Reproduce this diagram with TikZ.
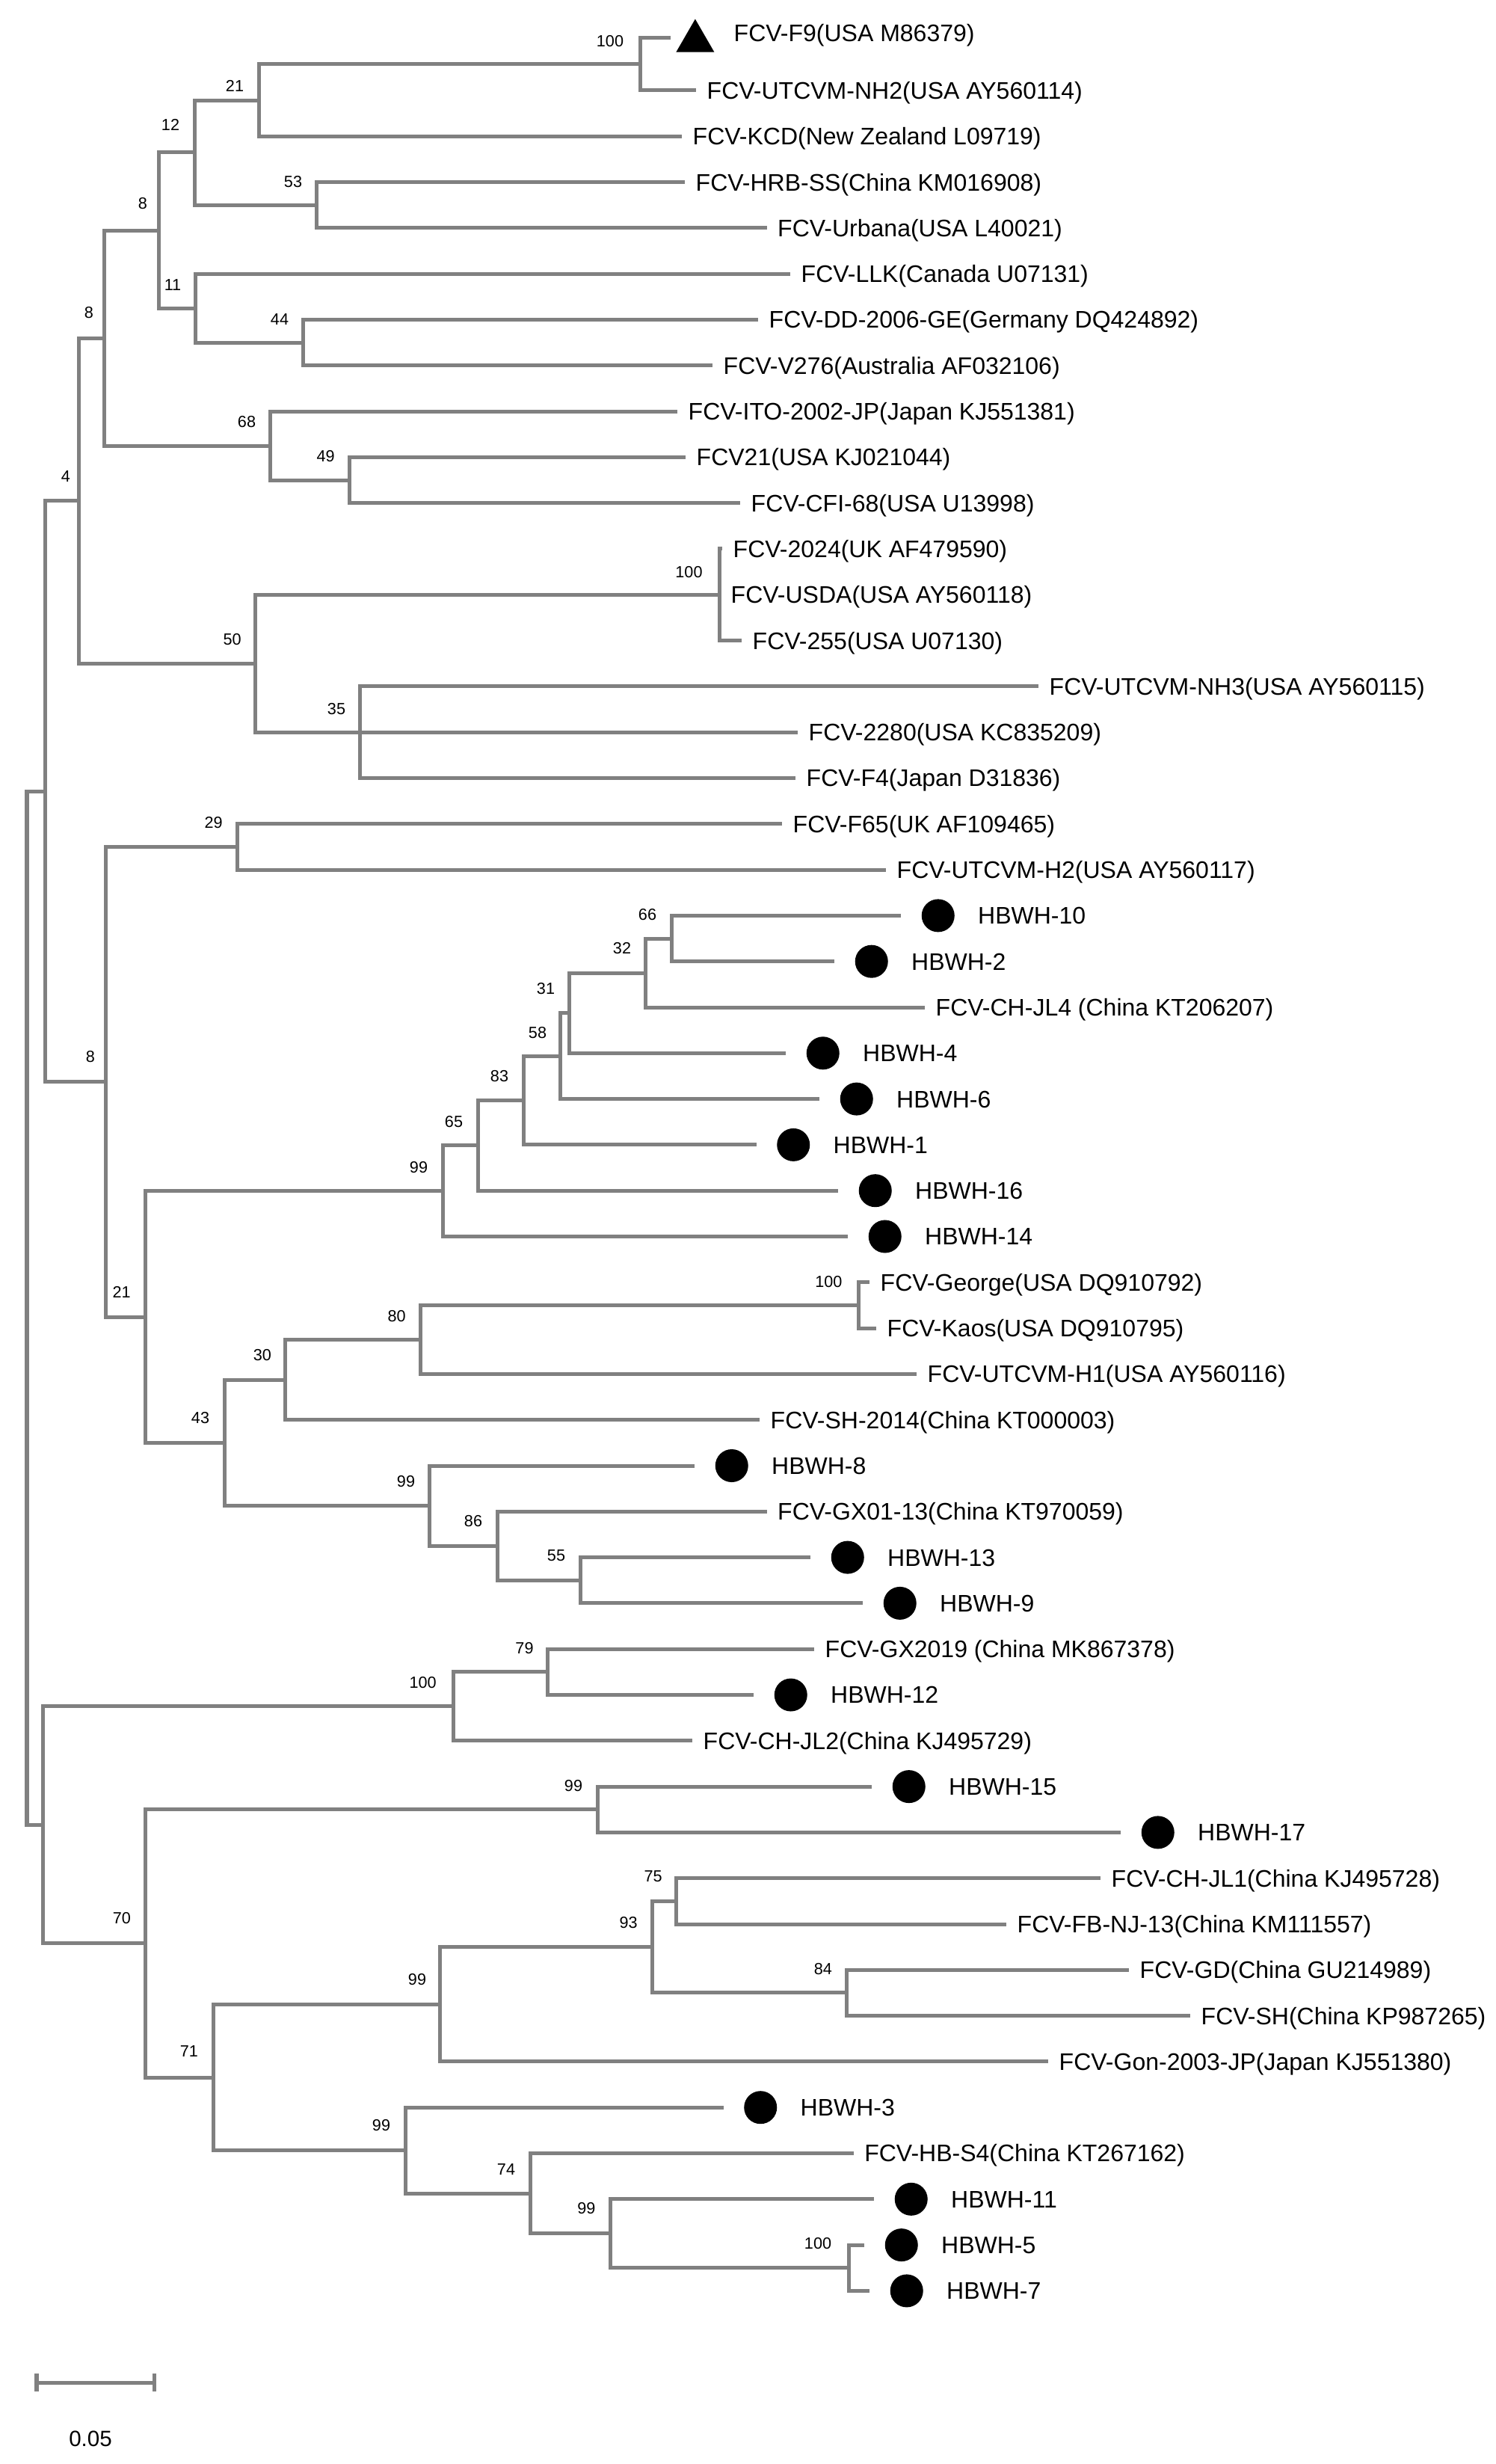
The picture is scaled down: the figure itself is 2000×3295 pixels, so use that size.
\documentclass[tikz,border=0pt]{standalone}
\usepackage{fontspec}
\setmainfont{Liberation Sans}
\usetikzlibrary{positioning,shapes.geometric}

\definecolor{treegray}{RGB}{128,128,128}
\tikzset{
  branch/.style={draw=treegray, line width=0.05cm},
  leaf/.style={inner sep=0pt, font=\fontsize{9.1}{10}\selectfont, text height=0.229cm, text depth=0pt},
  boot/.style={inner sep=0pt, font=\fontsize{6.15}{7}\selectfont},
  scalelab/.style={inner sep=0pt, font=\fontsize{8.4}{9}\selectfont},
  hbdot/.style={circle, fill=black, inner sep=0pt, minimum size=0.44cm},
  reftri/.style={regular polygon, regular polygon sides=3, fill=black, inner sep=0pt, minimum size=0.59cm},
}

\begin{document}
\begin{tikzpicture}[x=0.01cm, y=-0.01cm]
    \useasboundingbox (0,0) rectangle (2000,3295);

    % leaf ends
    \coordinate (e1) at (897,51);
    \coordinate (e2) at (931,121);
    \coordinate (e3) at (912,182.3);
    \coordinate (e4) at (916,243.6);
    \coordinate (e5) at (1025.5,304.9);
    \coordinate (e6) at (1057,366.2);
    \coordinate (e7) at (1014,427.5);
    \coordinate (e8) at (953,488.8);
    \coordinate (e9) at (906,550.1);
    \coordinate (e10) at (917,611.4);
    \coordinate (e11) at (990,672.7);
    \coordinate (e12) at (966,734);
    \coordinate (e13) at (963,795.3);
    \coordinate (e14) at (992,856.6);
    \coordinate (e15) at (1389,917.9);
    \coordinate (e16) at (1067,979.2);
    \coordinate (e17) at (1064,1040.5);
    \coordinate (e18) at (1046,1101.8);
    \coordinate (e19) at (1185,1163.1);
    \coordinate (e20) at (1205,1224.4);
    \coordinate (e21) at (1116,1285.7);
    \coordinate (e22) at (1237,1347);
    \coordinate (e23) at (1051,1408.3);
    \coordinate (e24) at (1096,1469.6);
    \coordinate (e25) at (1011.5,1530.9);
    \coordinate (e26) at (1121,1592.2);
    \coordinate (e27) at (1134,1653.5);
    \coordinate (e28) at (1163,1714.8);
    \coordinate (e29) at (1172,1776.1);
    \coordinate (e30) at (1226,1837.4);
    \coordinate (e31) at (1016,1898.7);
    \coordinate (e32) at (929,1960);
    \coordinate (e33) at (1025.5,2021.3);
    \coordinate (e34) at (1084,2082.6);
    \coordinate (e35) at (1154,2143.9);
    \coordinate (e36) at (1089,2205.2);
    \coordinate (e37) at (1008,2266.5);
    \coordinate (e38) at (926,2327.8);
    \coordinate (e39) at (1166,2389.1);
    \coordinate (e40) at (1499,2450.4);
    \coordinate (e41) at (1472,2511.7);
    \coordinate (e42) at (1346,2573);
    \coordinate (e43) at (1510,2634.3);
    \coordinate (e44) at (1592,2695.6);
    \coordinate (e45) at (1402,2756.9);
    \coordinate (e46) at (967.5,2818.2);
    \coordinate (e47) at (1141.6,2879.5);
    \coordinate (e48) at (1169,2940.8);
    \coordinate (e49) at (1156,3002.1);
    \coordinate (e50) at (1163,3063.4);

    % inner nodes
    \coordinate (root) at (36,1749.3);
    \coordinate (nTop) at (60.6,1058.2);
    \coordinate (n4) at (105,669.7);
    \coordinate (nA8a) at (139,452.1);
    \coordinate (nA8b) at (212,308.1);
    \coordinate (nA12) at (260,203.95);
    \coordinate (nA21) at (346,134.65);
    \coordinate (nA100) at (856.5,86);
    \coordinate (nA53) at (423,274.25);
    \coordinate (nA11) at (261.5,412.2);
    \coordinate (nA44) at (405,458.15);
    \coordinate (nA68) at (361.6,596.1);
    \coordinate (nA49) at (467,642.05);
    \coordinate (nB50) at (341,887.25);
    \coordinate (nB100) at (962,795.3);
    \coordinate (nB35) at (481.5,979.2);
    \coordinate (n8c) at (141.6,1446.7);
    \coordinate (nC29) at (317,1132.45);
    \coordinate (nD21) at (194.5,1761);
    \coordinate (nD99) at (592,1592.7);
    \coordinate (nD65) at (639,1531.85);
    \coordinate (nD83) at (700,1471.5);
    \coordinate (nD58) at (749,1412.1);
    \coordinate (nD31) at (761,1354.65);
    \coordinate (nD32) at (863,1301);
    \coordinate (nD66) at (898,1255.05);
    \coordinate (nE43) at (300,1929.35);
    \coordinate (nE30) at (381,1845.05);
    \coordinate (nE80) at (562.5,1791.4);
    \coordinate (nE100) at (1148.6,1745.45);
    \coordinate (nF99) at (574,2013.65);
    \coordinate (nF86) at (665,2067.3);
    \coordinate (nF55) at (776,2113.25);
    \coordinate (nBot) at (57.4,2440.35);
    \coordinate (nG100) at (606,2281.8);
    \coordinate (nG79) at (732,2235.85);
    \coordinate (n70) at (194.5,2598.9);
    \coordinate (nH99) at (799,2419.75);
    \coordinate (n71) at (285,2778);
    \coordinate (nI99) at (588,2680.3);
    \coordinate (nI93) at (872,2603.65);
    \coordinate (nI75) at (904,2542.35);
    \coordinate (nI84) at (1132,2664.95);
    \coordinate (nJ99) at (542,2875.7);
    \coordinate (nJ74) at (709,2933.15);
    \coordinate (nJ99b) at (816,2986.8);
    \coordinate (nJ100) at (1135,3032.75);

    % branches
    \draw[branch] (nTop) -| (root) |- (nBot);
    \draw[branch] (n4) -| (nTop) |- (n8c);
    \draw[branch] (nA8a) -| (n4) |- (nB50);
    \draw[branch] (nA8b) -| (nA8a) |- (nA68);
    \draw[branch] (nA12) -| (nA8b) |- (nA11);
    \draw[branch] (nA21) -| (nA12) |- (nA53);
    \draw[branch] (nA100) -| (nA21) |- (e3);
    \draw[branch] (e1) -| (nA100) |- (e2);
    \draw[branch] (e4) -| (nA53) |- (e5);
    \draw[branch] (e6) -| (nA11) |- (nA44);
    \draw[branch] (e7) -| (nA44) |- (e8);
    \draw[branch] (e9) -| (nA68) |- (nA49);
    \draw[branch] (e10) -| (nA49) |- (e11);
    \draw[branch] (nB100) -| (nB50) |- (nB35);
    \draw[branch] (e12) -| (nB100) |- (e14);
    \draw[branch] (nB100) -- (e13);
    \draw[branch] (e15) -| (nB35) |- (e17);
    \draw[branch] (nB35) -- (e16);
    \draw[branch] (nC29) -| (n8c) |- (nD21);
    \draw[branch] (e18) -| (nC29) |- (e19);
    \draw[branch] (nD99) -| (nD21) |- (nE43);
    \draw[branch] (nD65) -| (nD99) |- (e27);
    \draw[branch] (nD83) -| (nD65) |- (e26);
    \draw[branch] (nD58) -| (nD83) |- (e25);
    \draw[branch] (nD31) -| (nD58) |- (e24);
    \draw[branch] (nD32) -| (nD31) |- (e23);
    \draw[branch] (nD66) -| (nD32) |- (e22);
    \draw[branch] (e20) -| (nD66) |- (e21);
    \draw[branch] (nE30) -| (nE43) |- (nF99);
    \draw[branch] (nE80) -| (nE30) |- (e31);
    \draw[branch] (nE100) -| (nE80) |- (e30);
    \draw[branch] (e28) -| (nE100) |- (e29);
    \draw[branch] (e32) -| (nF99) |- (nF86);
    \draw[branch] (e33) -| (nF86) |- (nF55);
    \draw[branch] (e34) -| (nF55) |- (e35);
    \draw[branch] (nG100) -| (nBot) |- (n70);
    \draw[branch] (nG79) -| (nG100) |- (e38);
    \draw[branch] (e36) -| (nG79) |- (e37);
    \draw[branch] (nH99) -| (n70) |- (n71);
    \draw[branch] (e39) -| (nH99) |- (e40);
    \draw[branch] (nI99) -| (n71) |- (nJ99);
    \draw[branch] (nI93) -| (nI99) |- (e45);
    \draw[branch] (nI75) -| (nI93) |- (nI84);
    \draw[branch] (e41) -| (nI75) |- (e42);
    \draw[branch] (e43) -| (nI84) |- (e44);
    \draw[branch] (e46) -| (nJ99) |- (nJ74);
    \draw[branch] (e47) -| (nJ74) |- (nJ99b);
    \draw[branch] (e48) -| (nJ99b) |- (nJ100);
    \draw[branch] (e49) -| (nJ100) |- (e50);

    % markers
    \node[reftri, right=0.15cm of e1, yshift=-0.04cm] (m1) {};
    \node[hbdot, right=0.27cm of e20] (m20) {};
    \node[hbdot, right=0.27cm of e21] (m21) {};
    \node[hbdot, right=0.27cm of e23] (m23) {};
    \node[hbdot, right=0.27cm of e24] (m24) {};
    \node[hbdot, right=0.27cm of e25] (m25) {};
    \node[hbdot, right=0.27cm of e26] (m26) {};
    \node[hbdot, right=0.27cm of e27] (m27) {};
    \node[hbdot, right=0.27cm of e32] (m32) {};
    \node[hbdot, right=0.27cm of e34] (m34) {};
    \node[hbdot, right=0.27cm of e35] (m35) {};
    \node[hbdot, right=0.27cm of e37] (m37) {};
    \node[hbdot, right=0.27cm of e39] (m39) {};
    \node[hbdot, right=0.27cm of e40] (m40) {};
    \node[hbdot, right=0.27cm of e46] (m46) {};
    \node[hbdot, right=0.27cm of e48] (m48) {};
    \node[hbdot, right=0.27cm of e49] (m49) {};
    \node[hbdot, right=0.27cm of e50] (m50) {};

    % taxa
    \node[leaf, anchor=west] (t1) at (981,44) {FCV-F9(USA M86379)};
    \node[leaf, right=0.14cm of e2] (t2) {FCV-UTCVM-NH2(USA AY560114)};
    \node[leaf, right=0.14cm of e3] (t3) {FCV-KCD(New Zealand L09719)};
    \node[leaf, right=0.14cm of e4] (t4) {FCV-HRB-SS(China KM016908)};
    \node[leaf, right=0.14cm of e5] (t5) {FCV-Urbana(USA L40021)};
    \node[leaf, right=0.14cm of e6] (t6) {FCV-LLK(Canada U07131)};
    \node[leaf, right=0.14cm of e7] (t7) {FCV-DD-2006-GE(Germany DQ424892)};
    \node[leaf, right=0.14cm of e8] (t8) {FCV-V276(Australia AF032106)};
    \node[leaf, right=0.14cm of e9] (t9) {FCV-ITO-2002-JP(Japan KJ551381)};
    \node[leaf, right=0.14cm of e10] (t10) {FCV21(USA KJ021044)};
    \node[leaf, right=0.14cm of e11] (t11) {FCV-CFI-68(USA U13998)};
    \node[leaf, right=0.14cm of e12] (t12) {FCV-2024(UK AF479590)};
    \node[leaf, right=0.14cm of e13] (t13) {FCV-USDA(USA AY560118)};
    \node[leaf, right=0.14cm of e14] (t14) {FCV-255(USA U07130)};
    \node[leaf, right=0.14cm of e15] (t15) {FCV-UTCVM-NH3(USA AY560115)};
    \node[leaf, right=0.14cm of e16] (t16) {FCV-2280(USA KC835209)};
    \node[leaf, right=0.14cm of e17] (t17) {FCV-F4(Japan D31836)};
    \node[leaf, right=0.14cm of e18] (t18) {FCV-F65(UK AF109465)};
    \node[leaf, right=0.14cm of e19] (t19) {FCV-UTCVM-H2(USA AY560117)};
    \node[leaf, right=0.30cm of m20] (t20) {HBWH-10};
    \node[leaf, right=0.30cm of m21] (t21) {HBWH-2};
    \node[leaf, right=0.14cm of e22] (t22) {FCV-CH-JL4 (China KT206207)};
    \node[leaf, right=0.30cm of m23] (t23) {HBWH-4};
    \node[leaf, right=0.30cm of m24] (t24) {HBWH-6};
    \node[leaf, right=0.30cm of m25] (t25) {HBWH-1};
    \node[leaf, right=0.30cm of m26] (t26) {HBWH-16};
    \node[leaf, right=0.30cm of m27] (t27) {HBWH-14};
    \node[leaf, right=0.14cm of e28] (t28) {FCV-George(USA DQ910792)};
    \node[leaf, right=0.14cm of e29] (t29) {FCV-Kaos(USA DQ910795)};
    \node[leaf, right=0.14cm of e30] (t30) {FCV-UTCVM-H1(USA AY560116)};
    \node[leaf, right=0.14cm of e31] (t31) {FCV-SH-2014(China KT000003)};
    \node[leaf, right=0.30cm of m32] (t32) {HBWH-8};
    \node[leaf, right=0.14cm of e33] (t33) {FCV-GX01-13(China KT970059)};
    \node[leaf, right=0.30cm of m34] (t34) {HBWH-13};
    \node[leaf, right=0.30cm of m35] (t35) {HBWH-9};
    \node[leaf, right=0.14cm of e36] (t36) {FCV-GX2019 (China MK867378)};
    \node[leaf, right=0.30cm of m37] (t37) {HBWH-12};
    \node[leaf, right=0.14cm of e38] (t38) {FCV-CH-JL2(China KJ495729)};
    \node[leaf, right=0.30cm of m39] (t39) {HBWH-15};
    \node[leaf, right=0.30cm of m40] (t40) {HBWH-17};
    \node[leaf, right=0.14cm of e41] (t41) {FCV-CH-JL1(China KJ495728)};
    \node[leaf, right=0.14cm of e42] (t42) {FCV-FB-NJ-13(China KM111557)};
    \node[leaf, right=0.14cm of e43] (t43) {FCV-GD(China GU214989)};
    \node[leaf, right=0.14cm of e44] (t44) {FCV-SH(China KP987265)};
    \node[leaf, right=0.14cm of e45] (t45) {FCV-Gon-2003-JP(Japan KJ551380)};
    \node[leaf, right=0.30cm of m46] (t46) {HBWH-3};
    \node[leaf, right=0.14cm of e47] (t47) {FCV-HB-S4(China KT267162)};
    \node[leaf, right=0.30cm of m48] (t48) {HBWH-11};
    \node[leaf, right=0.30cm of m49] (t49) {HBWH-5};
    \node[leaf, right=0.30cm of m50] (t50) {HBWH-7};

    % bootstrap values
    \node[boot] (bA100) at (816,55) {100};
    \node[boot] (bA21) at (314,115) {21};
    \node[boot] (bA12) at (228,167) {12};
    \node[boot] (bA53) at (392,243) {53};
    \node[boot] (bA8b) at (191,272.5) {8};
    \node[boot] (bA11) at (231,380.6) {11};
    \node[boot] (bA44) at (374,427.5) {44};
    \node[boot] (bA8a) at (119,417.6) {8};
    \node[boot] (bA68) at (330,564) {68};
    \node[boot] (bA49) at (435.6,610.5) {49};
    \node[boot] (b4) at (88,637) {4};
    \node[boot] (bB100) at (921.5,765) {100};
    \node[boot] (bB50) at (310.6,854.7) {50};
    \node[boot] (bB35) at (450,948.4) {35};
    \node[boot] (bC29) at (285.7,1100) {29};
    \node[boot] (bD66) at (866,1223) {66};
    \node[boot] (bD32) at (832,1268.5) {32};
    \node[boot] (bD31) at (730,1322) {31};
    \node[boot] (bD58) at (719,1380.6) {58};
    \node[boot] (b8c) at (121,1413) {8};
    \node[boot] (bD83) at (668,1438.6) {83};
    \node[boot] (bD65) at (607,1499.8) {65};
    \node[boot] (bD99) at (560,1561.4) {99};
    \node[boot] (bE100) at (1108.4,1714) {100};
    \node[boot] (bD21) at (162.6,1728) {21};
    \node[boot] (bE80) at (530.6,1760) {80};
    \node[boot] (bE30) at (350.8,1812) {30};
    \node[boot] (bE43) at (268,1896) {43};
    \node[boot] (bF99) at (543,1981.5) {99};
    \node[boot] (bF86) at (633,2034) {86};
    \node[boot] (bF55) at (744,2080.6) {55};
    \node[boot] (bG79) at (701.5,2203.8) {79};
    \node[boot] (bG100) at (565.7,2250) {100};
    \node[boot] (bH99) at (767,2387.7) {99};
    \node[boot] (bI75) at (873.7,2509.6) {75};
    \node[boot] (b70) at (163,2565.4) {70};
    \node[boot] (bI93) at (840.6,2570.8) {93};
    \node[boot] (bI84) at (1100.8,2632.6) {84};
    \node[boot] (bI99) at (558,2646.8) {99};
    \node[boot] (b71) at (253,2743) {71};
    \node[boot] (bJ99) at (510,2841.8) {99};
    \node[boot] (bJ74) at (677,2900.7) {74};
    \node[boot] (bJ99b) at (784.4,2952.6) {99};
    \node[boot] (bJ100) at (1094,3000.5) {100};

    % scale bar
    \coordinate (sbL) at (49,3186);
    \coordinate (sbR) at (206,3186);
    \draw[branch] (sbL) -- (sbR);
    \draw[branch] ([yshift=0.12cm]sbL) -- ([yshift=-0.12cm]sbL);
    \draw[branch] ([yshift=0.12cm]sbR) -- ([yshift=-0.12cm]sbR);
    \node[scalelab] (sbT) at (121,3261) {0.05};
\end{tikzpicture}
\end{document}
